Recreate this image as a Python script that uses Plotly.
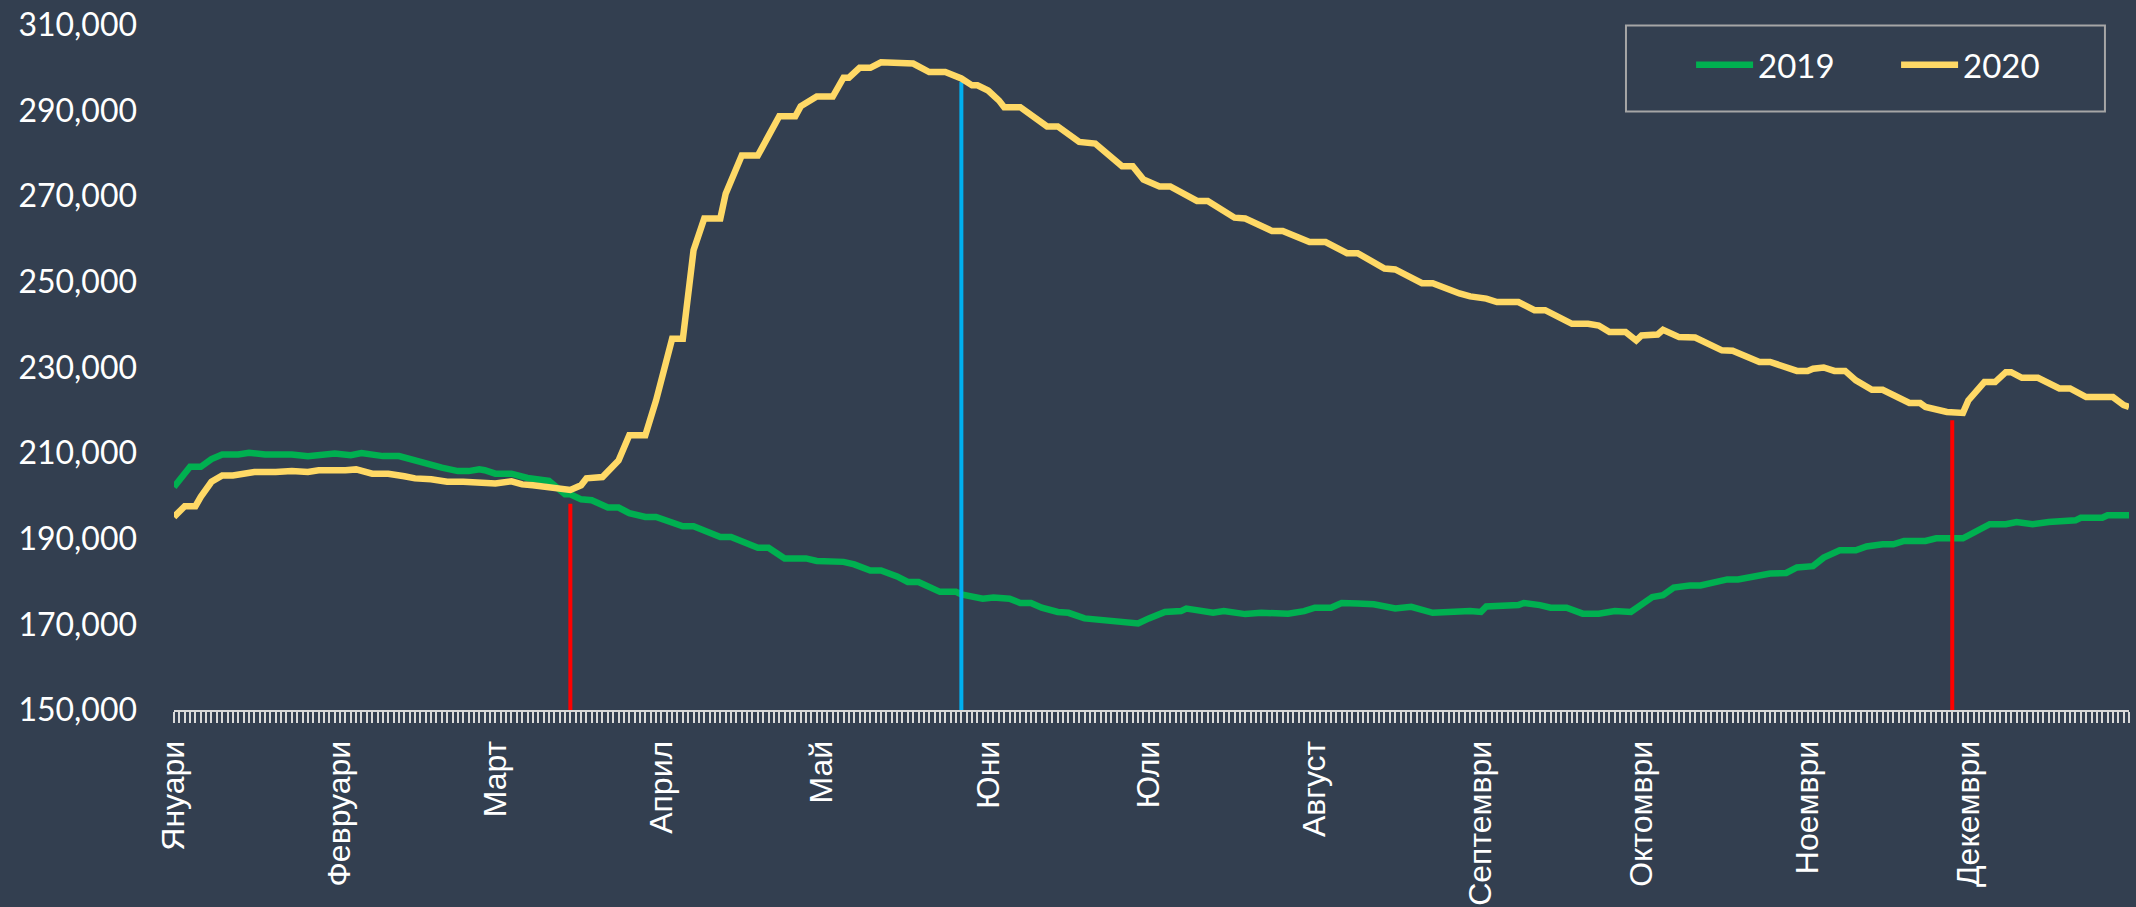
import plotly.graph_objects as go

# day of year (0 = 1 January)
days_2019 = [0, 3, 5, 7, 9, 12, 14, 17, 22, 25, 30, 32, 33, 35, 37, 39, 42, 46, 47, 50,
             53, 55, 57, 58, 60, 63, 66, 68, 70, 73, 74, 76, 78, 81, 83, 85, 88, 90, 92, 95,
             97, 100, 102, 104, 106, 109, 111, 114, 118, 120, 125, 127, 130, 132, 135, 137, 139, 143, 146, 147,
             151, 153, 156, 158, 160, 162, 165, 167, 170, 173, 176, 180, 182, 185, 188, 189, 190, 194, 196, 200,
             203, 208, 211, 213, 216, 218, 221, 224, 228, 231, 235, 238, 242, 244, 245, 251, 252, 255, 257, 260,
             263, 266, 269, 272, 276, 278, 280, 283, 285, 290, 292, 298, 301, 303, 306, 308, 311, 314, 316, 319,
             321, 323, 327, 329, 334, 339, 342, 344, 347, 350, 355, 356, 360, 361, 365]
values_2019 = [202100, 206800, 206800, 208600, 209700, 209700, 210100, 209700, 209700, 209300,
               209900, 209500, 209500, 210000, 209700, 209300, 209300, 207800, 207800, 206600,
               205800, 205800, 206200, 206000, 205200, 205200, 204200, 203900, 203500, 200400,
               200400, 199200, 199000, 197300, 197300, 196000, 195100, 195100, 194200, 192900,
               192900, 191600, 190400, 190400, 189300, 187900, 187900, 185400, 185400, 184800,
               184600, 184000, 182600, 182600, 181200, 179900, 179900, 177600, 177600, 177000,
               176000, 176300, 176000, 175000, 175000, 173900, 172900, 172700, 171400, 171000,
               170600, 170200, 171400, 172900, 173100, 173700, 173500, 172700, 173100, 172400,
               172700, 172500, 173100, 173900, 173900, 175000, 174900, 174700, 173700, 174100,
               172700, 172900, 173100, 172900, 174200, 174500, 175000, 174500, 173900, 173900,
               172500, 172500, 173100, 172900, 176400, 176800, 178600, 179100, 179100, 180500,
               180500, 181900, 182000, 183300, 183600, 185600, 187300, 187300, 188200, 188700,
               188700, 189500, 189500, 190100, 190100, 193400, 193400, 193900, 193400, 193900,
               194300, 194900, 194900, 195500, 195500]

days_2020 = [0, 2, 4, 5, 7, 9, 11, 13, 15, 19, 22, 25, 27, 32, 34, 37, 40, 43, 45, 48,
             51, 54, 58, 60, 63, 65, 67, 71, 73, 74, 76, 77, 80, 83, 85, 88, 90, 93, 95, 96,
             97, 99, 102, 103, 106, 109, 111, 113, 116, 117, 120, 123, 125, 126, 128, 130, 132, 134, 135, 138,
             141, 144, 147, 149, 150, 152, 154, 155, 158, 160, 163, 165, 169, 172, 177, 179, 181, 184, 186, 191,
             193, 198, 200, 205, 207, 212, 215, 219, 221, 226, 228, 233, 235, 240, 242, 245, 247, 251, 254, 256,
             258, 261, 264, 266, 268, 271, 273, 274, 277, 278, 281, 284, 289, 291, 296, 298, 303, 305, 306, 308,
             310, 312, 314, 317, 319, 322, 324, 326, 327, 331, 334, 335, 338, 340, 342, 343, 345, 348, 352, 354,
             357, 362, 364, 365]
values_2020 = [195100, 197600, 197600, 199800, 203300, 204800, 204800, 205200, 205600, 205600,
               205800, 205600, 206000, 206000, 206200, 205200, 205200, 204600, 204100, 203900,
               203300, 203300, 202900, 202900, 203400, 202700, 202500, 201700, 201300, 201400,
               202500, 204100, 204400, 208300, 214200, 214200, 222300, 236700, 236700, 248800,
               257400, 264800, 264800, 270600, 279500, 279500, 284200, 288700, 288700, 291000,
               293300, 293300, 297700, 297700, 300000, 300000, 301300, 301300, 301000, 301000,
               299000, 299000, 297500, 295900, 295900, 294700, 292400, 290800, 290800, 288900,
               286300, 286300, 282700, 282300, 277000, 277000, 273900, 272300, 272300, 268900,
               268900, 265000, 264800, 261900, 261900, 259300, 259300, 256700, 256700, 253100,
               252900, 249700, 249700, 247300, 246600, 246100, 245300, 245300, 243400, 243400,
               242200, 240200, 240200, 239800, 238300, 238300, 236300, 237500, 237700, 238800,
               237100, 237000, 234000, 233900, 231300, 231300, 229200, 229200, 229700, 230000,
               229200, 229200, 227000, 224800, 224800, 222700, 221700, 221700, 220800, 219600,
               219400, 222300, 226600, 226600, 228900, 228900, 227600, 227600, 225100, 225100,
               223100, 223100, 221200, 220800]

# marker lines: day, top value, colour
event_days = [74, 147, 332]
event_tops = [198200, 296700, 217700]
event_colors = ["#FF0000", "#00B0F0", "#FF0000"]

month_starts = [0, 31, 60, 91, 121, 152, 182, 213, 244, 274, 305, 335]
month_names = ["Януари", "Февруари", "Март", "Април", "Май", "Юни", "Юли", "Август",
               "Септември", "Октомври", "Ноември", "Декември"]

y_ticks = list(range(150000, 310001, 20000))

BG = "#333F50"
AXIS = "#D9D9D9"

fig = go.Figure()
fig.add_trace(go.Scatter(x=days_2019, y=values_2019, mode="lines", name="2019",
                         line=dict(color="#00B050", width=6.5)))
for d, top, c in zip(event_days, event_tops, event_colors):
    fig.add_trace(go.Scatter(x=[d, d], y=[y_ticks[0], top], mode="lines", showlegend=False,
                             hoverinfo="skip", line=dict(color=c, width=4)))
fig.add_trace(go.Scatter(x=days_2020, y=values_2020, mode="lines", name="2020",
                         line=dict(color="#FFD966", width=6.5)))

fig.update_layout(
    width=2136, height=907,
    margin=dict(l=174, r=7, t=25, b=197),
    paper_bgcolor=BG, plot_bgcolor=BG,
    showlegend=True,
    legend=dict(orientation="h", x=0.776, xanchor="left", y=0.942, yanchor="middle",
                bgcolor="rgba(0,0,0,0)", borderwidth=0, itemwidth=57,
                font=dict(family="Lato", size=33, color="white"),
                entrywidth=133, entrywidthmode="pixels"),
    shapes=[dict(type="rect", xref="paper", yref="paper", x0=0.7427, x1=0.9877,
                 y0=0.8738, y1=0.9993, line=dict(color="#A6A6A6", width=2),
                 fillcolor="rgba(0,0,0,0)")],
)
fig.update_xaxes(
    range=[0, 365], showgrid=False, zeroline=False, automargin=False,
    tickmode="array", tickvals=month_starts, ticktext=month_names, tickangle=-90,
    ticks="outside", ticklen=11, tickwidth=1.5, tickcolor=AXIS,
    showline=True, linecolor=AXIS, linewidth=2,
    tickfont=dict(family="Liberation Sans", size=32, color="white"),
    ticklabelstandoff=5,
    minor=dict(ticks="outside", ticklen=11, tickwidth=1.5, tickcolor=AXIS,
               dtick=1, tick0=0, showgrid=False),
)
fig.update_yaxes(
    range=[150000, 310000], showgrid=False, zeroline=False, automargin=False,
    tickmode="array", tickvals=y_ticks, tickformat=",",
    tickfont=dict(family="Lato", size=32, color="white"),
    ticks="", showline=False, ticklabelstandoff=36,
)

# page has a default 8px body margin; drop it so the figure fills the window
fig.write_html("out.html", config={"displayModeBar": False},
               post_script="document.body.style.margin='0';"
                           "document.body.style.background='" + BG + "';")
